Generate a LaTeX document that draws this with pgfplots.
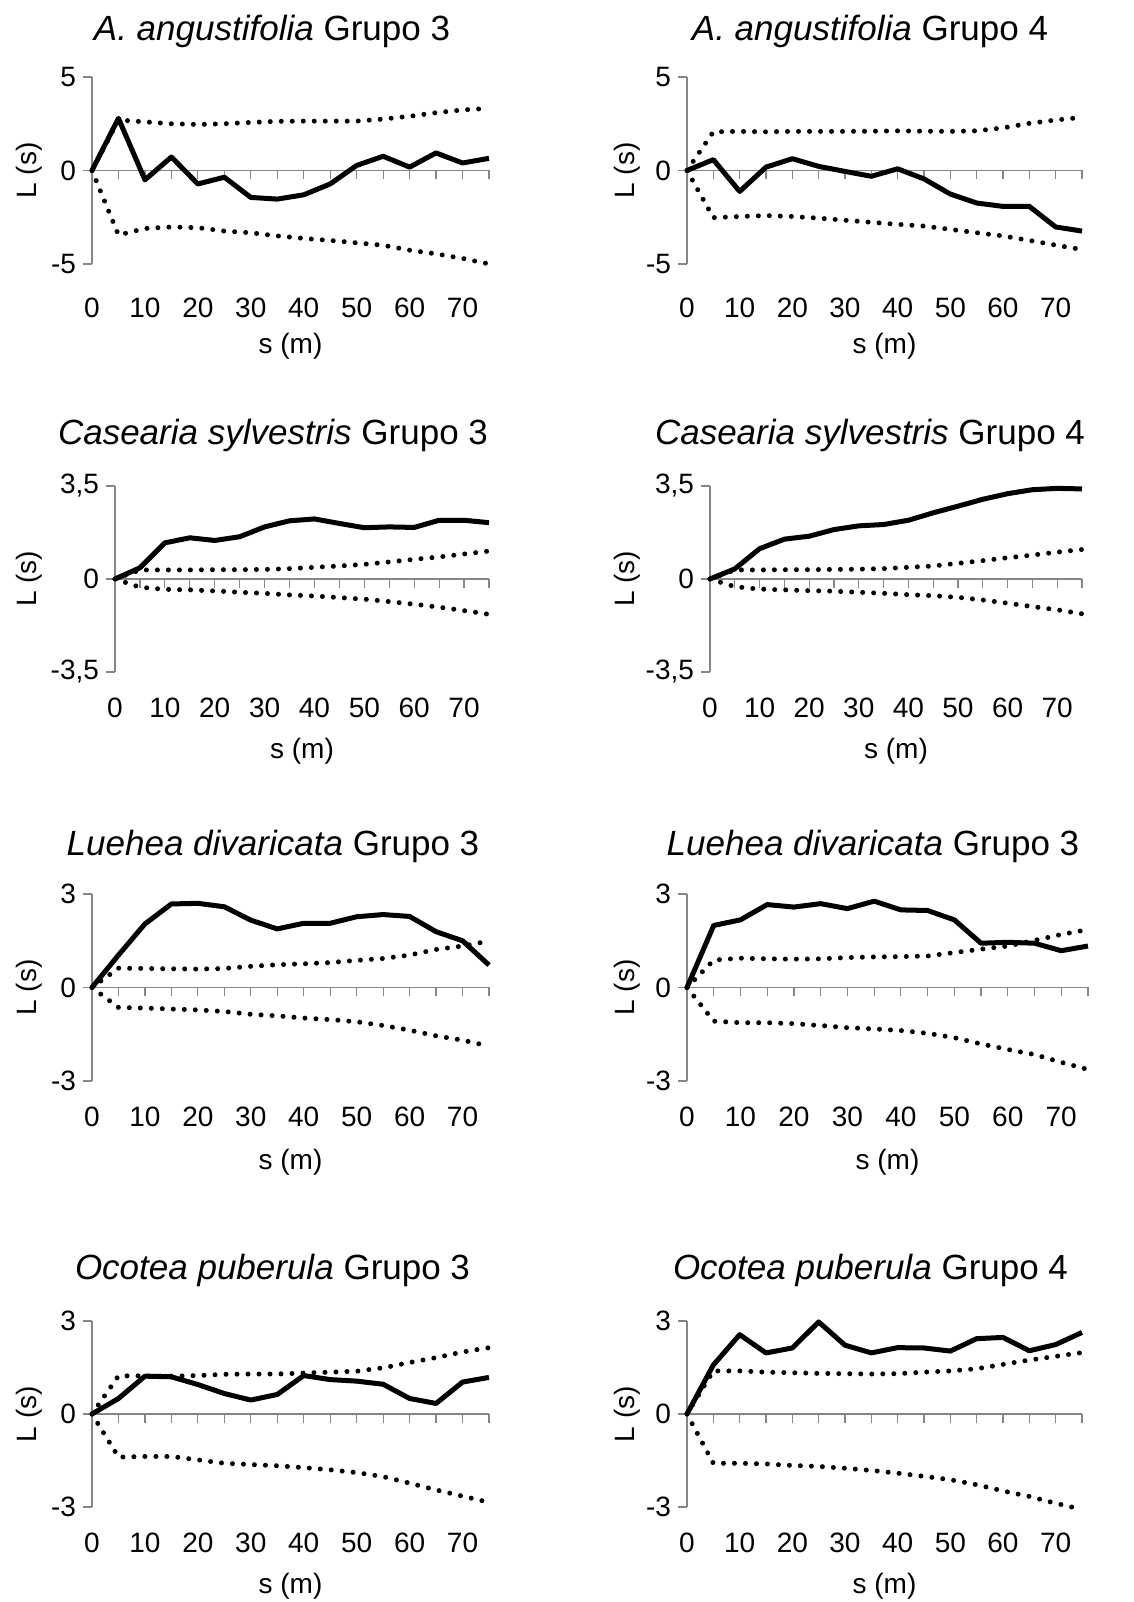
\documentclass[border=0pt]{standalone}
\usepackage{pgfplots}
\usepackage{pgfplotstable}
\pgfplotsset{compat=1.18}
\usepackage{fontspec}
\setmainfont{Liberation Sans}

\definecolor{axisgray}{HTML}{868686}

% s, observed L(s), upper and lower envelope
\pgfplotstableread{
s L hi lo
0 0 0 0
5 2.79 2.70 -3.45
10 -0.50 2.60 -3.10
15 0.72 2.50 -3.02
20 -0.72 2.46 -3.06
25 -0.36 2.50 -3.24
30 -1.44 2.57 -3.33
35 -1.53 2.63 -3.50
40 -1.30 2.64 -3.63
45 -0.72 2.64 -3.74
50 0.27 2.64 -3.87
55 0.76 2.75 -4.00
60 0.18 2.90 -4.26
65 0.94 3.09 -4.46
70 0.40 3.24 -4.70
75 0.65 3.32 -5.00
}\angTres
\pgfplotstableread{
s L hi lo
0 0 0 0
5 0.58 2.07 -2.52
10 -1.12 2.09 -2.46
15 0.18 2.07 -2.41
20 0.63 2.09 -2.46
25 0.22 2.09 -2.55
30 -0.05 2.09 -2.66
35 -0.31 2.10 -2.77
40 0.09 2.12 -2.88
45 -0.45 2.10 -2.97
50 -1.26 2.09 -3.15
55 -1.74 2.12 -3.33
60 -1.92 2.28 -3.50
65 -1.92 2.52 -3.74
70 -3.02 2.70 -3.99
75 -3.24 2.84 -4.23
}\angQuatro
\pgfplotstableread{
s L hi lo
0 0 0 0
5 0.42 0.34 -0.31
10 1.36 0.34 -0.39
15 1.55 0.34 -0.41
20 1.45 0.35 -0.45
25 1.59 0.35 -0.50
30 1.96 0.36 -0.54
35 2.19 0.39 -0.60
40 2.26 0.44 -0.64
45 2.09 0.49 -0.70
50 1.93 0.55 -0.76
55 1.96 0.64 -0.85
60 1.94 0.74 -0.95
65 2.21 0.83 -1.06
70 2.21 0.94 -1.19
75 2.12 1.05 -1.33
}\casTres
\pgfplotstableread{
s L hi lo
0 0 0 0
5 0.38 0.34 -0.29
10 1.14 0.34 -0.38
15 1.50 0.35 -0.41
20 1.61 0.35 -0.44
25 1.86 0.36 -0.46
30 2.00 0.37 -0.50
35 2.05 0.39 -0.54
40 2.21 0.44 -0.59
45 2.49 0.49 -0.63
50 2.74 0.59 -0.69
55 3.00 0.69 -0.79
60 3.21 0.80 -0.91
65 3.36 0.90 -1.04
70 3.41 1.01 -1.16
75 3.39 1.11 -1.31
}\casQuatro
\pgfplotstableread{
s L hi lo
0 0 0 0
5 1.04 0.62 -0.64
10 2.04 0.61 -0.66
15 2.68 0.60 -0.69
20 2.70 0.59 -0.72
25 2.59 0.61 -0.77
30 2.16 0.68 -0.86
35 1.88 0.73 -0.91
40 2.06 0.76 -0.98
45 2.06 0.80 -1.03
50 2.27 0.87 -1.10
55 2.34 0.93 -1.22
60 2.28 1.04 -1.37
65 1.79 1.22 -1.55
70 1.50 1.33 -1.69
75 0.72 1.49 -1.88
}\lueA
\pgfplotstableread{
s L hi lo
0 0 0 0
5 1.99 0.88 -1.08
10 2.17 0.94 -1.13
15 2.66 0.92 -1.13
20 2.58 0.91 -1.16
25 2.69 0.92 -1.22
30 2.53 0.96 -1.29
35 2.77 0.98 -1.33
40 2.49 0.99 -1.38
45 2.47 1.01 -1.47
50 2.17 1.12 -1.61
55 1.42 1.23 -1.81
60 1.45 1.33 -1.99
65 1.42 1.51 -2.15
70 1.18 1.70 -2.40
75 1.33 1.86 -2.63
}\lueB
\pgfplotstableread{
s L hi lo
0 0 0 0
5 0.50 1.23 -1.39
10 1.22 1.23 -1.37
15 1.20 1.22 -1.37
20 0.95 1.24 -1.48
25 0.66 1.28 -1.59
30 0.45 1.29 -1.63
35 0.63 1.29 -1.67
40 1.24 1.32 -1.73
45 1.11 1.35 -1.80
50 1.06 1.38 -1.89
55 0.96 1.49 -2.02
60 0.50 1.66 -2.23
65 0.34 1.82 -2.45
70 1.03 2.00 -2.65
75 1.18 2.14 -2.85
}\ocoTres
\pgfplotstableread{
s L hi lo
0 0 0 0
5 1.58 1.39 -1.59
10 2.56 1.39 -1.59
15 1.97 1.35 -1.61
20 2.13 1.33 -1.66
25 2.97 1.31 -1.69
30 2.22 1.30 -1.75
35 1.97 1.29 -1.82
40 2.14 1.30 -1.91
45 2.13 1.35 -2.01
50 2.03 1.39 -2.12
55 2.43 1.46 -2.28
60 2.47 1.60 -2.48
65 2.04 1.74 -2.66
70 2.24 1.86 -2.88
75 2.63 1.98 -3.08
}\ocoQuatro

\pgfplotsset{
  every axis title/.style={font=\fontsize{17.5}{21}\selectfont, anchor=center},
  kplot/.style={
    scale only axis,
    anchor=south west,
    xmin=0, xmax=75,
    axis y line=left,
    axis x line=middle,
    hide obscured x ticks=false,
    axis line style={-, draw=axisgray, line width=0.6pt},
    tick style={draw=axisgray, line width=0.6pt},
    tick align=outside,
    major tick length=4.5pt,
    xtick={0,5,...,75},
    xticklabels={0,{},10,{},20,{},30,{},40,{},50,{},60,{},70,{}},
    tick label style={font=\fontsize{14}{17}\selectfont},
    label style={font=\fontsize{14}{17}\selectfont},
    /pgf/number format/assume math mode=true,
    xlabel={s (m)},
    ylabel={L (s)},
    clip=false,
  },
  obs/.style={black, line width=2.5pt, line join=round},
  env/.style={black, line width=2.5pt, line cap=round, dash pattern=on 0pt off 5.5pt},
}

\newcommand{\kpanel}[1]{%
  \addplot[env] table[x=s, y=hi] {#1};
  \addplot[env] table[x=s, y=lo] {#1};
  \addplot[obs] table[x=s, y=L] {#1};
}

\begin{document}
\begin{tikzpicture}
\useasboundingbox (0,0) rectangle (567pt,801pt);

% row 1
\begin{axis}[kplot, at={(46pt,669pt)}, width=198.5pt, height=93.5pt,
  ymin=-5, ymax=5, ytick={-5,0,5}, yticklabels={-5,0,5},
  title={\textit{A. angustifolia} Grupo 3},
  title style={at={(axis description cs:0.5,1)}, xshift=-9.25pt, yshift=23pt},
  xticklabel style={yshift=-55.5pt},
  xlabel style={at={(axis description cs:0.5,0)}, anchor=center, yshift=-41pt},
  ylabel style={at={(axis description cs:-0.1587,0.5)}, anchor=center}]
\kpanel{\angTres}
\end{axis}
\begin{axis}[kplot, at={(343.5pt,669pt)}, width=197.5pt, height=93.5pt,
  ymin=-5, ymax=5, ytick={-5,0,5}, yticklabels={-5,0,5},
  title={\textit{A. angustifolia} Grupo 4},
  title style={at={(axis description cs:0.5,1)}, xshift=-7.25pt, yshift=23pt},
  xticklabel style={yshift=-55.5pt},
  xlabel style={at={(axis description cs:0.5,0)}, anchor=center, yshift=-41pt},
  ylabel style={at={(axis description cs:-0.1519,0.5)}, anchor=center}]
\kpanel{\angQuatro}
\end{axis}

% row 2
\begin{axis}[kplot, at={(57.5pt,465pt)}, width=187pt, height=93pt,
  ymin=-3.5, ymax=3.5, ytick={-3.5,0,3.5}, yticklabels={{-3,5},{0},{3,5}},
  title={\textit{Casearia sylvestris} Grupo 3},
  title style={at={(axis description cs:0.5,1)}, xshift=-14.5pt, yshift=25.5pt},
  xticklabel style={yshift=-51.4pt},
  xlabel style={at={(axis description cs:0.5,0)}, anchor=center, yshift=-39.5pt},
  ylabel style={at={(axis description cs:-0.23,0.5)}, anchor=center}]
\kpanel{\casTres}
\end{axis}
\begin{axis}[kplot, at={(355pt,465pt)}, width=186pt, height=93pt,
  ymin=-3.5, ymax=3.5, ytick={-3.5,0,3.5}, yticklabels={{-3,5},{0},{3,5}},
  title={\textit{Casearia sylvestris} Grupo 4},
  title style={at={(axis description cs:0.5,1)}, xshift=-13pt, yshift=25.5pt},
  xticklabel style={yshift=-51.4pt},
  xlabel style={at={(axis description cs:0.5,0)}, anchor=center, yshift=-39.5pt},
  ylabel style={at={(axis description cs:-0.2231,0.5)}, anchor=center}]
\kpanel{\casQuatro}
\end{axis}

% row 3
\begin{axis}[kplot, at={(46pt,260.5pt)}, width=198.5pt, height=93.5pt,
  ymin=-3, ymax=3, ytick={-3,0,3}, yticklabels={-3,0,3},
  title={\textit{Luehea divaricata} Grupo 3},
  title style={at={(axis description cs:0.5,1)}, xshift=-8.75pt, yshift=24pt},
  xticklabel style={yshift=-51.9pt},
  xlabel style={at={(axis description cs:0.5,0)}, anchor=center, yshift=-40.5pt},
  ylabel style={at={(axis description cs:-0.1587,0.5)}, anchor=center}]
\kpanel{\lueA}
\end{axis}
\begin{axis}[kplot, at={(343.5pt,260.5pt)}, width=200.5pt, height=93.5pt,
  ymin=-3, ymax=3, ytick={-3,0,3}, yticklabels={-3,0,3},
  title={\textit{Luehea divaricata} Grupo 3},
  title style={at={(axis description cs:0.5,1)}, xshift=-7.25pt, yshift=24pt},
  xticklabel style={yshift=-51.9pt},
  xlabel style={at={(axis description cs:0.5,0)}, anchor=center, yshift=-40.5pt},
  ylabel style={at={(axis description cs:-0.1496,0.5)}, anchor=center}]
\kpanel{\lueB}
\end{axis}

% row 4
\begin{axis}[kplot, at={(46pt,47.5pt)}, width=198.5pt, height=93pt,
  ymin=-3, ymax=3, ytick={-3,0,3}, yticklabels={-3,0,3},
  title={\textit{Ocotea puberula} Grupo 3},
  title style={at={(axis description cs:0.5,1)}, xshift=-9pt, yshift=25.5pt},
  xticklabel style={yshift=-51.4pt},
  xlabel style={at={(axis description cs:0.5,0)}, anchor=center, yshift=-39.5pt},
  ylabel style={at={(axis description cs:-0.1587,0.5)}, anchor=center}]
\kpanel{\ocoTres}
\end{axis}
\begin{axis}[kplot, at={(343.5pt,47.5pt)}, width=197.5pt, height=93pt,
  ymin=-3, ymax=3, ytick={-3,0,3}, yticklabels={-3,0,3},
  title={\textit{Ocotea puberula} Grupo 4},
  title style={at={(axis description cs:0.5,1)}, xshift=-7pt, yshift=25.5pt},
  xticklabel style={yshift=-51.4pt},
  xlabel style={at={(axis description cs:0.5,0)}, anchor=center, yshift=-39.5pt},
  ylabel style={at={(axis description cs:-0.1519,0.5)}, anchor=center}]
\kpanel{\ocoQuatro}
\end{axis}
\end{tikzpicture}
\end{document}
